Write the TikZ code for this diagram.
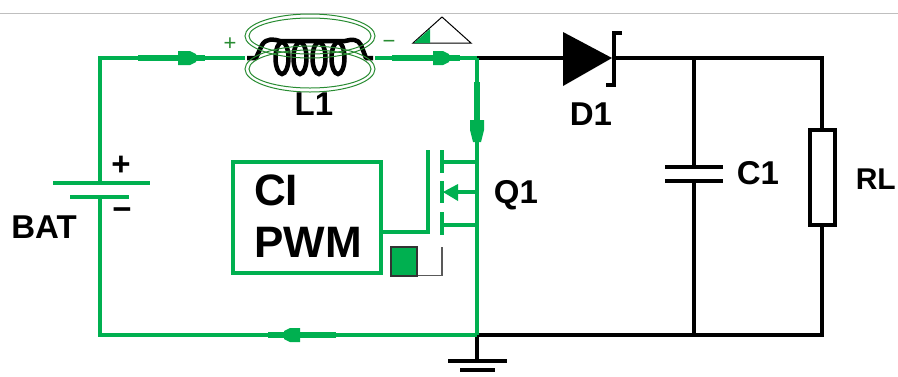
\documentclass[tikz,border=0pt]{standalone}
\usepackage{fontspec}
\setmainfont{Liberation Sans}
\definecolor{wg}{RGB}{0,176,80}
\definecolor{ring}{RGB}{40,140,50}
\tikzset{
 gw/.style={draw=wg,line width=4pt},
 bw/.style={draw=black,line width=4pt},
 flow/.style={draw=wg,line width=6.5pt},
 head/.style={fill=wg,draw=none},
 ringline/.style={draw=ring,line width=1pt},
 coil/.style={draw=black,line width=4.5pt},
 lab/.style={font=\bfseries\fontsize{33}{35}\selectfont,inner sep=0pt,text=black},
 pm/.style={font=\fontsize{22}{24}\selectfont,inner sep=0pt,text=ring}
}
\begin{document}
\begin{tikzpicture}[x=1pt,y=-1pt]
\useasboundingbox (0,0) rectangle (898,376);
\fill[white] (0,0) rectangle (898,376);
\draw[gray!50,line width=1pt] (0,13) -- (898,13);
% named points
\coordinate (tl) at (100,58);
\coordinate (ll) at (245,58);
\coordinate (lr) at (375,58);
\coordinate (sw) at (477,58);
\coordinate (gn) at (477,335);
\coordinate (bl) at (100,335);
\coordinate (bp) at (100,183);
\coordinate (bm) at (100,197);
\coordinate (dl) at (563,58);
\coordinate (dr) at (614,58);
\coordinate (ct) at (694,58);
\coordinate (cb) at (694,335);
\coordinate (cp) at (694,167);
\coordinate (cm) at (694,181);
\coordinate (rt) at (822,58);
\coordinate (rb) at (822,335);
\coordinate (gt) at (477,360);
\coordinate (dq) at (477,162);
\coordinate (dq2) at (442,162);
\coordinate (bq) at (477,192);
\coordinate (bq2) at (450,192);
\coordinate (sq) at (477,225);
\coordinate (sq2) at (442,225);
\coordinate (gq) at (428,232);
% black wiring
\draw[bw] (sw) -- (dl);
\draw[bw] (dr) -- (rt) -- (822,128);
\draw[bw] (822,225) -- (rb) -- (gn);
\draw[bw] (ct) -- (cp);
\draw[bw] (cm) -- (cb);
\draw[bw] (gn) -- (gt);
\draw[bw] (448,360.5) -- (507,360.5);
\draw[bw] (460,370) -- (495,370);
% diode
\fill (563,32) -- (612,58) -- (563,86) -- cycle;
\draw[black,line width=4pt] (622,33) -- (614,33) -- (614,85) -- (606,85);
% cap
\draw[bw] (665,167) -- (723,167);
\draw[bw] (665,181) -- (723,181);
% resistor
\node[draw=black,line width=4pt,minimum width=25pt,minimum height=95pt,inner sep=0pt] (rl) at (822,177) {};
% green wiring
\draw[gw] (bp) -- (tl) -- (ll);
\draw[gw] (lr) -- (sw);
\draw[gw] (bm) -- (bl) -- (gn);
\draw[gw] (sw) -- (gn);
\draw[gw] (53,183) -- (150,183);
\draw[gw] (70,197) -- (129,197);
% flow arrows
\draw[flow] (138,58) -- (205,58);
\fill[head] (178,51) -- (190,51) -- (196,54) -- (196,62) -- (190,65) -- (178,65) -- cycle;
\draw[flow] (392,58) -- (460,58);
\fill[head] (433,51) -- (443,51) -- (449,54) -- (449,62) -- (443,65) -- (433,65) -- cycle;
\draw[flow] (477,82) -- (477,138);
\fill[head] (470,120) -- (470,130) -- (473,142) -- (481,142) -- (484,130) -- (484,120) -- cycle;
\draw[flow] (336,335) -- (268,335);
\fill[head] (300,328) -- (290,328) -- (284,331) -- (284,339) -- (290,342) -- (300,342) -- cycle;
% inductor
\draw[coil,line join=round] (247,58) -- (256,58) -- (262,45)
 .. controls (266,38) and (274,39) .. (280,41) -- (345,41)
 .. controls (352,39) and (358,39) .. (361,45) -- (366,58) -- (373,58);
\foreach \cx in {282,300,319,338}
 \draw[coil] (\cx,58) ellipse [x radius=6.5,y radius=16];
\draw[ringline] (310,36) ellipse [x radius=65,y radius=22];
\draw[ringline] (310,36) ellipse [x radius=61,y radius=18];
\draw[ringline] (310,69) ellipse [x radius=65,y radius=23];
\draw[ringline] (310,69) ellipse [x radius=61,y radius=19];
\node[pm] (plus) at (230,44) {+};
\node[pm] (minus) at (389,44) {−};
% indicator triangle
\draw[black,line width=1pt] (413,43) -- (442,17) -- (471,43) -- cycle;
\fill[wg] (414,43) -- (430,29) -- (430,43) -- cycle;
% PWM box
\node[draw=wg,line width=4pt,minimum width=148pt,minimum height=111pt,inner sep=0pt] (pwm) at (307,217.5) {};
\node[font=\bfseries\fontsize{44}{46}\selectfont,inner sep=0pt,anchor=west] (ci) at (254,190) {CI};
\node[font=\bfseries\fontsize{44}{46}\selectfont,inner sep=0pt,anchor=west] (pw) at (254,242) {PWM};
% MOSFET
\draw[gw] (pwm.east |- gq) -- (gq) -- (428,150);
\draw[gw] (442,150) -- (442,173);
\draw[gw] (442,181) -- (442,203);
\draw[gw] (442,212) -- (442,235);
\draw[gw] (dq2) -- (dq);
\draw[gw] (sq2) -- (sq);
\draw[gw] (bq) -- (bq2);
\fill[head] (443,192) -- (458,184) -- (458,201) -- cycle;
% square wave
\draw[gray!70!black,line width=1.2pt] (417,275.5) -- (442,275.5) -- (442,247);
\draw[black!80,line width=1.2pt,fill=wg] (391,276) rectangle (417,247);
% battery sign
\node[lab] (bplus) at (121,166) {+};
\node[lab] (bminus) at (122,214) {−};
% labels
\node[lab] (bat) at (44,227) {BAT};
\node[lab] (l1) at (314,104) {L1};
\node[lab] (d1) at (591,114) {D1};
\node[lab] (c1) at (758,173) {C1};
\node[lab] (q1) at (516,195) {Q1};
\node[font=\bfseries\fontsize{30}{32}\selectfont,inner sep=0pt,anchor=east] (rlt) at (896,179) {RL};
\end{tikzpicture}
\end{document}
